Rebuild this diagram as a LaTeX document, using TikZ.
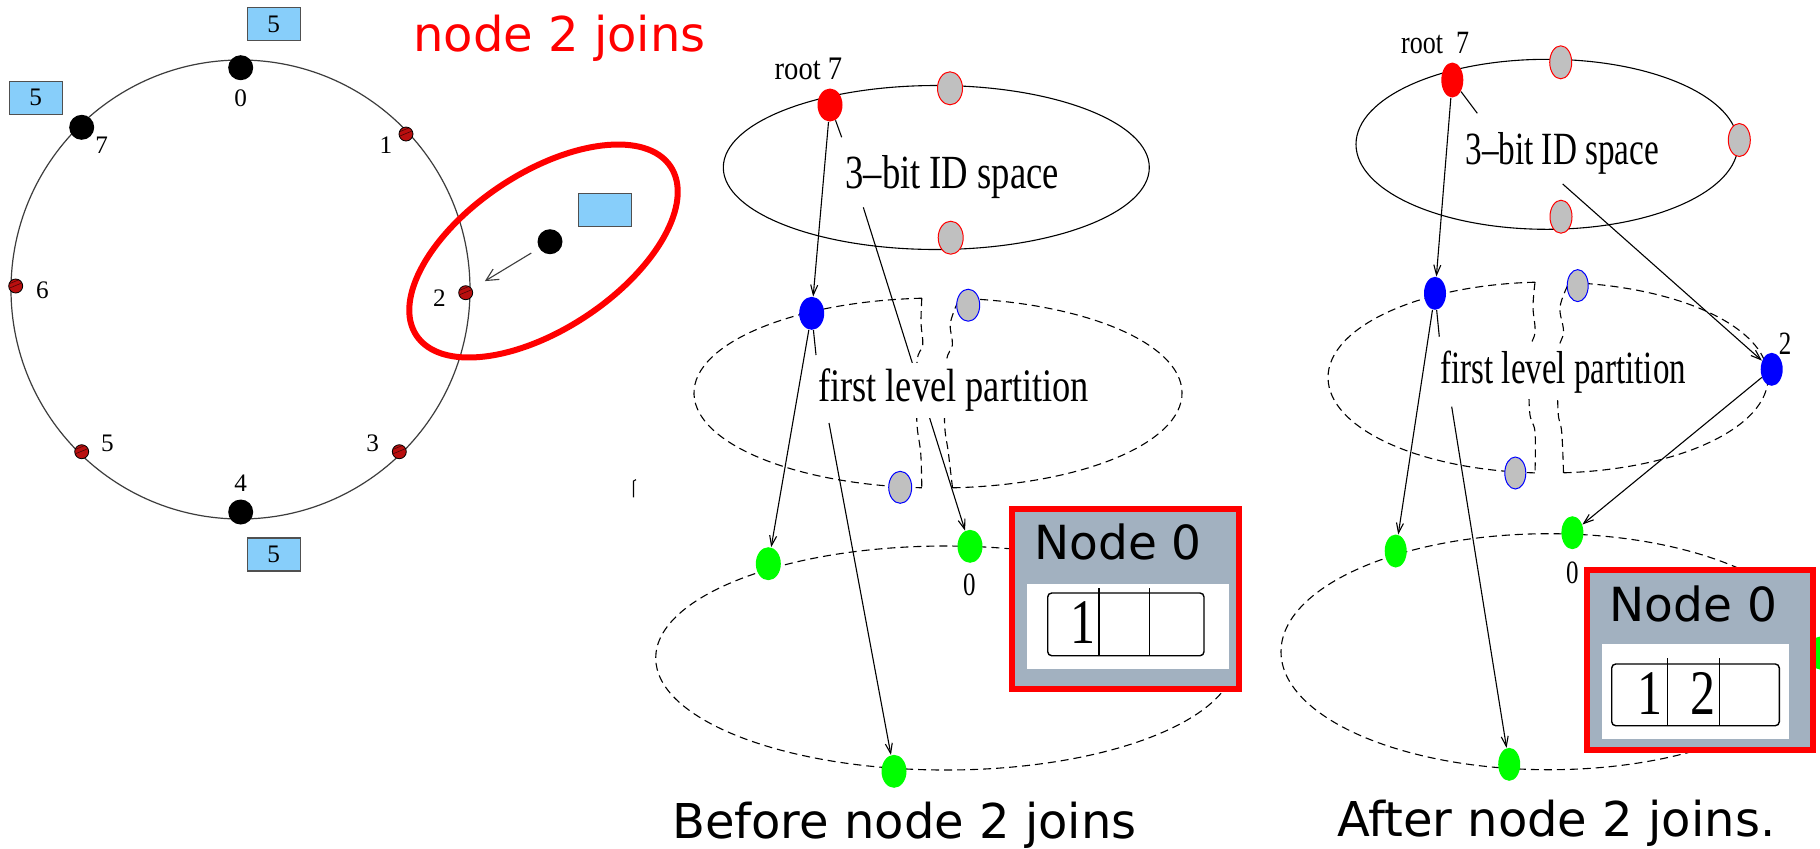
\documentclass[tikz,border=0pt]{standalone}
\usepackage{fontspec}
\usepackage{graphicx}
\usetikzlibrary{shapes.geometric,arrows.meta}
\setmainfont{Liberation Serif}
\newfontfamily\slidefont{DejaVu Sans}

\definecolor{tagblue}{RGB}{135,206,250}
\definecolor{tagedge}{RGB}{80,80,80}
\definecolor{ringred}{RGB}{185,15,15}
\definecolor{panelgray}{RGB}{162,177,192}
\definecolor{dotgray}{RGB}{192,192,192}
\definecolor{vgreen}{RGB}{0,255,0}
\definecolor{ringline}{RGB}{60,60,60}

\pgfdeclarelayer{bg}
\pgfdeclarelayer{paper}
\pgfsetlayers{paper,bg,main}

% vertical stretch of a piece of text
\newcommand{\tall}[2]{\scalebox{1}[#1]{#2}}

\begin{document}
\begin{tikzpicture}[x=0.5pt,y=-0.5pt,
  ringcurve/.style={draw=ringline,line width=0.6pt},
  bigdot/.style={circle,fill=black,inner sep=0pt,minimum size=12.5pt},
  smalldot/.style={circle,fill=ringred,draw=black,line width=0.4pt,inner sep=0pt,minimum size=7pt,
    path picture={\draw[black!60!ringred,line width=0.3pt]
      ([xshift=-3pt,yshift=-1pt]path picture bounding box.center) -- ++(6pt,2.5pt)
      ([xshift=-3pt,yshift=1.2pt]path picture bounding box.center) -- ++(6pt,2.5pt);}},
  ringlbl/.style={inner sep=0pt,font=\fontsize{12.6}{13}\selectfont},
  tagbox/.style={draw=tagedge,fill=tagblue,line width=0.7pt,minimum width=26.5pt,minimum height=16.5pt,inner sep=0pt,font=\fontsize{12.6}{13}\selectfont},
  slide/.style={inner sep=0pt,anchor=base west,font=\slidefont\fontsize{24}{26}\selectfont},
  ln/.style={line width=0.55pt},
  arr/.style={line width=0.55pt,-{Straight Barb[length=5pt,width=3.5pt]}},
  dsh/.style={line width=0.55pt,dash pattern=on 4pt off 2.5pt},
  vtx/.style={ellipse,inner sep=0pt,minimum width=12.5pt,minimum height=16.5pt},
  slim/.style={minimum width=11pt},
  redv/.style={vtx,fill=red},
  grayr/.style={vtx,fill=dotgray,draw=red,line width=0.5pt},
  grayb/.style={vtx,fill=dotgray,draw=blue,line width=0.5pt,minimum width=11.5pt,minimum height=16pt},
  bluev/.style={vtx,fill=blue},
  greenv/.style={vtx,fill=vgreen},
  plbl/.style={inner sep=0pt,anchor=base west},
  digit/.style={inner sep=0pt,font=\fontsize{12.5}{13}\selectfont},
  cellbox/.style={line width=0.7pt,rounded corners=2pt},
  cellbar/.style={line width=0.7pt},
  celldigit/.style={inner sep=0pt,font=\fontsize{25}{26}\selectfont},
  panelframe/.style={fill=panelgray,draw=red,line width=3pt}
]
\useasboundingbox (0,0) rectangle (1820,848);
\begin{pgfonlayer}{paper}
  \fill[white] (0,0) rectangle (1820,848);
\end{pgfonlayer}

% ---------------- ring of the ID space ----------------
\draw[ringcurve] (240.5,289.5) circle [radius=229.5];
\draw[red,line width=3pt,rotate around={33.6:(543.5,251)}] (543.5,251) ellipse [x radius=152.6,y radius=77.9];

\node[bigdot]   (r0) at (240.7,67.7)  {};
\node[smalldot] (r1) at (406,134)     {};
\node[smalldot] (r2) at (465.7,292.7) {};
\node[smalldot] (r3) at (399.3,451.7) {};
\node[bigdot]   (r4) at (240.7,512)   {};
\node[smalldot] (r5) at (81.7,451.7)  {};
\node[smalldot] (r6) at (15.7,286)    {};
\node[bigdot]   (r7) at (81.7,127.3)  {};

\node[ringlbl] (l0) at (240.7,98.3)  {0};
\node[ringlbl] (l1) at (386,145)     {1};
\node[ringlbl] (l2) at (439.3,297.7) {2};
\node[ringlbl] (l3) at (372.7,443.3) {3};
\node[ringlbl] (l4) at (240.7,483)   {4};
\node[ringlbl] (l5) at (107.3,443.3) {5};
\node[ringlbl] (l6) at (42.3,290.7)  {6};
\node[ringlbl] (l7) at (101.7,145)   {7};

\node[tagbox] (t0) at (273.7,24.2)  {5};
\node[tagbox] (t7) at (35.7,97.7)   {5};
\node[tagbox] (t4) at (273.7,554.5) {5};

\node[bigdot] (jn) at (550,241.7) {};
\node[tagbox] (jt) at (605,209.8) {};
\draw[line width=0.55pt,draw=ringline,-{Straight Barb[length=6pt,width=6pt]},shorten <=4.5pt,shorten >=7.5pt] (jn) -- (r2);

\node[slide,text=red] (title) at (413,51.7) {node 2 joins};

% stray mark
\draw[ln] (636,479.7) -- (633.5,481) -- (633.5,497.3);

% ---------------- before node 2 joins ----------------
\node[redv]   (rootM) at (830,105)     {};
\node[grayr]  (gtM1)  at (950,88.3)    {};
\node[grayr]  (gtM2)  at (950.7,237.7) {};
\node[bluev]  (blueM) at (811.7,313.3) {};
\node[grayb]  (gbtM)  at (968.2,305.2) {};
\node[grayb]  (gbbM)  at (900.2,487.3) {};
\node[greenv] (glM)   at (768.3,563.7) {};
\node[greenv] (g0M)   at (970,546.3)   {};
\node[greenv] (gbM)   at (894,771.3)   {};

\node[plbl,font=\fontsize{14.3}{15}\selectfont] (rtM) at (774.3,79.3) {\tall{1.15}{root 7}};
\node[plbl,font=\fontsize{18.3}{19}\selectfont] (idM) at (845,188.3) {\tall{1.3}{3–bit ID space}};
\node[plbl,fill=white,inner ysep=3pt,font=\fontsize{18.2}{19}\selectfont] (flM) at (817.7,401.7) {\tall{1.28}{first level partition}};
\node[digit] (d0M) at (969.3,585.3) {\tall{1.3}{0}};

\coordinate (sRM) at (841.7,137.3);
\coordinate (sBM) at (816,355);
\coordinate (idMfoot) at (863.3,207.3);
\coordinate (flMfoot) at (829,423);

\begin{pgfonlayer}{bg}
  \draw[ln] (936.3,167.5) ellipse [x radius=213,y radius=82];
  \draw[dsh] (921.8,298.2) arc [start angle=-93.8,end angle=-266.2,x radius=244,y radius=95];
  \draw[dsh] plot[smooth,tension=0.6] coordinates {(921.8,298.2) (921,323) (922.7,345) (917,362) (916.8,421) (920.7,453) (921.8,487.8)};
  \draw[dsh] (952.5,487.8) arc [start angle=86.6,end angle=-85,x radius=244,y radius=95];
  \draw[dsh] plot[smooth,tension=0.6] coordinates {(952.5,487.8) (948.4,453) (944.5,421) (946.4,362) (952.4,345) (950.4,323) (959.3,298.4)};
  \draw[dsh] (945.7,658) ellipse [x radius=290,y radius=112];
  \draw[arr] (rootM) -- (blueM);
  \draw[ln]  (rootM) -- (sRM);
  \draw[ln]  (blueM) -- (sBM);
  \draw[arr] (blueM) -- (glM);
  \draw[arr] (idMfoot) -- (g0M);
  \draw[arr] (flMfoot) -- (gbM);
\end{pgfonlayer}

\filldraw[panelframe] (1012.3,508.7) rectangle (1238.7,689.3);
\fill[white] (1026.7,584) rectangle (1229,668.7);
\draw[cellbox] (1047.7,593) rectangle (1204,655.7);
\draw[cellbar] (1099,588) -- (1099,655.7);
\draw[cellbar] (1149.3,588) -- (1149.3,655.7);
\node[slide,font=\slidefont\fontsize{23.5}{25}\selectfont] (hdM) at (1034,559.7) {Node 0};
\node[celldigit] (c1M) at (1083.3,623) {\tall{1.27}{1}};

\node[slide] (capM) at (671.7,838) {Before node 2 joins};

% ---------------- after node 2 joins ----------------
\node[redv,slim,minimum height=17.5pt] (rootR) at (1452.3,80) {};
\node[grayr,slim] (gtR1) at (1560.7,62.3) {};
\node[grayr,slim] (gtR2) at (1739.3,140)  {};
\node[grayr,slim] (gtR3) at (1561,216.7)  {};
\node[bluev,slim] (blueR) at (1435,293.3)  {};
\node[bluev,slim] (b2R)   at (1771.7,369.3) {};
\node[grayb,slim,minimum width=10.5pt] (gbtR) at (1577.7,285.6) {};
\node[grayb,slim,minimum width=10.5pt] (gbbR) at (1515.3,473)   {};
\node[greenv,slim] (glR) at (1395.7,551)   {};
\node[greenv,slim] (g0R) at (1572.4,532.7) {};
\node[greenv,slim] (gbR) at (1509.2,764.3) {};
\node[greenv,slim] (grR) at (1820,653)     {};

\node[plbl,font=\fontsize{13}{14}\selectfont] (rtR) at (1400.7,53.3) {\tall{1.25}{root\ \ 7}};
\node[plbl,font=\fontsize{16.6}{17}\selectfont] (idR) at (1465,164) {\tall{1.39}{3–bit ID space}};
\node[plbl,fill=white,inner ysep=3pt,font=\fontsize{16.5}{17}\selectfont] (flR) at (1440,383.3) {\tall{1.4}{first level partition}};
\node[digit] (d2R) at (1785,343.3)   {\tall{1.3}{2}};
\node[digit] (d0R) at (1572.4,573.3) {\tall{1.3}{0}};

\coordinate (sRR) at (1477.3,113.3);
\coordinate (sBR) at (1439.3,336.7);
\coordinate (idRfoot) at (1562.7,184);
\coordinate (flRfoot) at (1451.7,406.7);

\begin{pgfonlayer}{bg}
  \draw[ln] (1547,144.3) ellipse [x radius=191,y radius=85];
  \draw[dsh] (1535,282.2) arc [start angle=-93.39,end angle=-266.61,x radius=220,y radius=95.5];
  \draw[dsh] plot[smooth,tension=0.6] coordinates {(1535,282.2) (1533,307) (1535,332) (1529.5,353.4) (1529.5,410.6) (1535,432) (1535,472.8)};
  \draw[dsh] (1563.5,472.8) arc [start angle=85.96,end angle=-84.5,x radius=220,y radius=95.5];
  \draw[dsh] plot[smooth,tension=0.6] coordinates {(1563.5,472.8) (1561.7,432) (1558,410.6) (1558,353.4) (1563.5,332) (1560,307) (1569.1,282.4)};
  \draw[dsh] (1549,651.7) ellipse [x radius=268,y radius=118];
  \draw[arr] (rootR) -- (blueR);
  \draw[ln]  (rootR) -- (sRR);
  \draw[ln]  (blueR) -- (sBR);
  \draw[arr] (blueR) -- (glR);
  \draw[arr] (idRfoot) -- (b2R);
  \draw[arr] (b2R) -- (g0R);
  \draw[arr] (flRfoot) -- (gbR);
\end{pgfonlayer}

\filldraw[panelframe] (1587.2,569.7) rectangle (1813.2,749.7);
\fill[white] (1601.7,644) rectangle (1789,739);
\draw[cellbox] (1611.7,664) rectangle (1779.3,725.7);
\draw[cellbar] (1667.3,658.3) -- (1667.3,725.7);
\draw[cellbar] (1719.3,658.3) -- (1719.3,725.7);
\node[slide,font=\slidefont\fontsize{23.5}{25}\selectfont] (hdR) at (1609.3,621) {Node 0};
\node[celldigit] (c1R) at (1650,693.3)   {\tall{1.27}{1}};
\node[celldigit] (c2R) at (1703.3,693.3) {\tall{1.27}{2}};

\node[slide] (capR) at (1336.8,836.7) {After node 2 joins.};
\end{tikzpicture}
\end{document}
